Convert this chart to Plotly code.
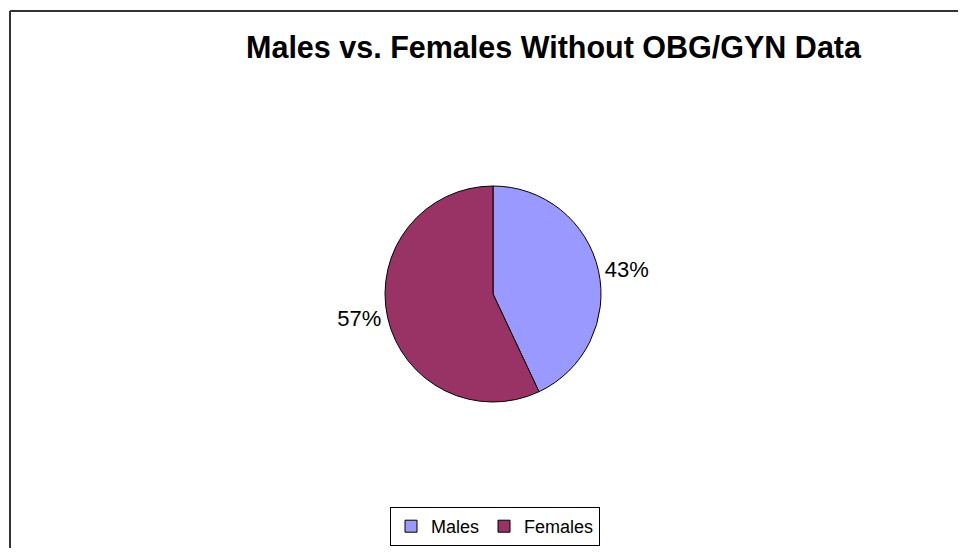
import plotly.graph_objects as go

categories = ["Males", "Females"]
values = [43, 57]
colors = ["#9999FF", "#993366"]

# the page body adds an 8px margin on every side; the figure fills what is left
OFF = 8
W, H = 966 - 2 * OFF, 556 - 2 * OFF


def px(x):
    return (x - OFF) / W


def py(y):
    return 1 - (y - OFF) / H


cx, cy, r = 493, 294, 108

fig = go.Figure(go.Pie(
    labels=categories,
    values=values,
    sort=False,
    direction="clockwise",
    rotation=0,
    marker=dict(colors=colors, line=dict(color="black", width=1)),
    textinfo="percent",
    textposition="outside",
    texttemplate="%{percent:.0%}",
    textfont=dict(family="Liberation Sans, Arial", size=22, color="black"),
    domain=dict(x=[px(cx - r), px(cx + r)], y=[py(cy + r), py(cy - r)]),
    hoverinfo="label+percent",
))

border = dict(color="#333333", width=2)
fig.update_layout(
    width=W, height=H,
    margin=dict(l=0, r=0, t=0, b=0),
    paper_bgcolor="white",
    plot_bgcolor="white",
    font=dict(family="Liberation Sans, Arial", color="black"),
    title=dict(
        text="<b>Males vs. Females Without OBG/GYN Data</b>",
        x=px(553.5), xanchor="center",
        y=py(47.5), yanchor="middle",
        font=dict(size=30.5, family="Liberation Sans, Arial", color="black"),
    ),
    showlegend=True,
    legend=dict(
        orientation="h",
        x=px(495), xanchor="center",
        y=py(507), yanchor="top",
        bordercolor="black", borderwidth=1,
        font=dict(size=18, family="Liberation Sans, Arial", color="black"),
        itemwidth=30,
        tracegroupgap=0,
    ),
    shapes=[
        dict(type="line", xref="paper", yref="paper", layer="above",
             x0=px(10), x1=1.05, y0=py(11), y1=py(11), line=border),
        dict(type="line", xref="paper", yref="paper", layer="above",
             x0=px(10), x1=px(10), y0=-0.05, y1=py(11), line=border),
    ],
)

fig.write_html("out.html")
